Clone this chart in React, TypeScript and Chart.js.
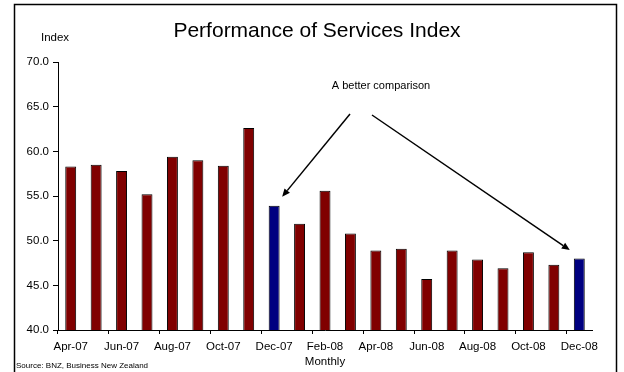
import React, { useEffect, useRef } from 'react';
import { Chart, registerables } from 'chart.js';

Chart.register(...registerables);

const months = [
  'Apr-07', 'May-07', 'Jun-07', 'Jul-07', 'Aug-07', 'Sep-07', 'Oct-07', 'Nov-07', 'Dec-07',
  'Jan-08', 'Feb-08', 'Mar-08', 'Apr-08', 'May-08', 'Jun-08', 'Jul-08', 'Aug-08', 'Sep-08',
  'Oct-08', 'Nov-08', 'Dec-08',
];
const indexValues = [
  58.3, 58.5, 57.8, 55.2, 59.4, 59.0, 58.4, 62.6, 53.9,
  51.9, 55.6, 50.8, 48.9, 49.1, 45.7, 48.9, 47.9, 46.9,
  48.7, 47.3, 48.0,
];
const highlightedMonths = ['Dec-07', 'Dec-08'];
const yMin = 40;
const yMax = 70;
const yStep = 5;

const titleText = 'Performance of Services Index';
const yAxisLabel = 'Index';
const xAxisLabel = 'Monthly';
const annotationText = 'A better comparison';
const sourceText = 'Source: BNZ, Business New Zealand';

const FONT = '"Liberation Sans", Arial, Helvetica, sans-serif';
const RED = '#800000';
const BLUE = '#000080';

function drawArrow(ctx: CanvasRenderingContext2D, x1: number, y1: number, x2: number, y2: number) {
  const ang = Math.atan2(y2 - y1, x2 - x1);
  const headLen = 8;
  const headHalf = 3.5;
  const bx = x2 - headLen * Math.cos(ang);
  const by = y2 - headLen * Math.sin(ang);
  ctx.beginPath();
  ctx.moveTo(x1, y1);
  ctx.lineTo(bx, by);
  ctx.lineWidth = 1.5;
  ctx.strokeStyle = '#000';
  ctx.stroke();
  ctx.beginPath();
  ctx.moveTo(x2, y2);
  ctx.lineTo(bx + headHalf * Math.sin(ang), by - headHalf * Math.cos(ang));
  ctx.lineTo(bx - headHalf * Math.sin(ang), by + headHalf * Math.cos(ang));
  ctx.closePath();
  ctx.fillStyle = '#000';
  ctx.fill();
}

const overlayPlugin = {
  id: 'overlay',
  beforeDraw(chart: any) {
    const ctx = chart.ctx as CanvasRenderingContext2D;
    ctx.save();
    ctx.fillStyle = '#fff';
    ctx.fillRect(0, 0, chart.width, chart.height);
    ctx.restore();
  },
  afterDraw(chart: any) {
    const ctx = chart.ctx as CanvasRenderingContext2D;
    const xs = chart.scales.x;
    const ys = chart.scales.y;
    ctx.save();
    // frame
    ctx.strokeStyle = '#000';
    ctx.lineWidth = 1.5;
    ctx.strokeRect(14.5, 4.5, 602, 400);
    // title
    ctx.fillStyle = '#000';
    ctx.textAlign = 'center';
    ctx.textBaseline = 'middle';
    ctx.font = `21px ${FONT}`;
    ctx.fillText(titleText, 317, 31);
    // y label
    ctx.font = `11.5px ${FONT}`;
    ctx.fillText(yAxisLabel, 55, 38);
    // annotation
    ctx.font = `11px ${FONT}`;
    ctx.fillText(annotationText, 381, 86);
    // source
    ctx.textAlign = 'left';
    ctx.font = `8px ${FONT}`;
    ctx.fillText(sourceText, 16, 366);
    // arrows to highlighted bars
    const i1 = months.indexOf(highlightedMonths[0]);
    const i2 = months.indexOf(highlightedMonths[1]);
    drawArrow(ctx, 350, 114, xs.getPixelForValue(i1) + 8, ys.getPixelForValue(indexValues[i1]) - 9);
    drawArrow(ctx, 372, 115, xs.getPixelForValue(i2) - 9.5, ys.getPixelForValue(indexValues[i2]) - 8.5);
    ctx.restore();
  },
};

export default function App() {
  const canvasRef = useRef<HTMLCanvasElement | null>(null);

  useEffect(() => {
    if (!canvasRef.current) return;
    const colors = months.map((m) => (highlightedMonths.includes(m) ? BLUE : RED));
    const chart = new Chart(canvasRef.current, {
      type: 'bar',
      data: {
        labels: months,
        datasets: [
          {
            data: indexValues,
            backgroundColor: colors,
            borderColor: '#000',
            borderWidth: 1,
            categoryPercentage: 1,
            barPercentage: 0.43,
          },
        ],
      },
      options: {
        responsive: false,
        animation: false,
        events: [],
        layout: { padding: { left: 0, right: 32, top: 62, bottom: 0 } },
        plugins: {
          legend: { display: false },
          tooltip: { enabled: false },
          title: { display: false },
        },
        scales: {
          x: {
            type: 'category',
            offset: true,
            afterFit: (s: any) => {
              s.height = 42;
            },
            grid: {
              offset: true,
              drawOnChartArea: false,
              drawTicks: true,
              tickLength: 4,
              lineWidth: 1,
              color: (c: any) => (c.type === 'tick' && c.index % 2 === 0 ? '#000' : 'rgba(0,0,0,0)'),
            },
            border: { display: true, color: '#000', width: 1 },
            ticks: {
              autoSkip: false,
              maxRotation: 0,
              minRotation: 0,
              padding: 6,
              color: '#000',
              font: { family: FONT, size: 11.5 },
              callback: (_v: any, i: number) => (i % 2 === 0 ? months[i] : ''),
            },
            title: {
              display: true,
              text: xAxisLabel,
              color: '#000',
              font: { family: FONT, size: 11.5 },
              padding: { top: 0, bottom: 3 },
            },
          },
          y: {
            min: yMin,
            max: yMax,
            afterFit: (s: any) => {
              s.width = 58;
            },
            grid: {
              drawOnChartArea: false,
              drawTicks: true,
              tickLength: 5,
              color: '#000',
            },
            border: { display: true, color: '#000', width: 1 },
            ticks: {
              stepSize: yStep,
              padding: 4,
              color: '#000',
              font: { family: FONT, size: 11.5 },
              callback: (v: any) => Number(v).toFixed(1),
            },
          },
        },
      },
      plugins: [overlayPlugin],
    } as any);
    return () => chart.destroy();
  }, []);

  return (
    <div style={{ position: 'fixed', left: 0, top: 0, width: 624, height: 372, background: '#fff' }}>
      <canvas ref={canvasRef} width={624} height={372} style={{ display: 'block', width: 624, height: 372 }} />
    </div>
  );
}
